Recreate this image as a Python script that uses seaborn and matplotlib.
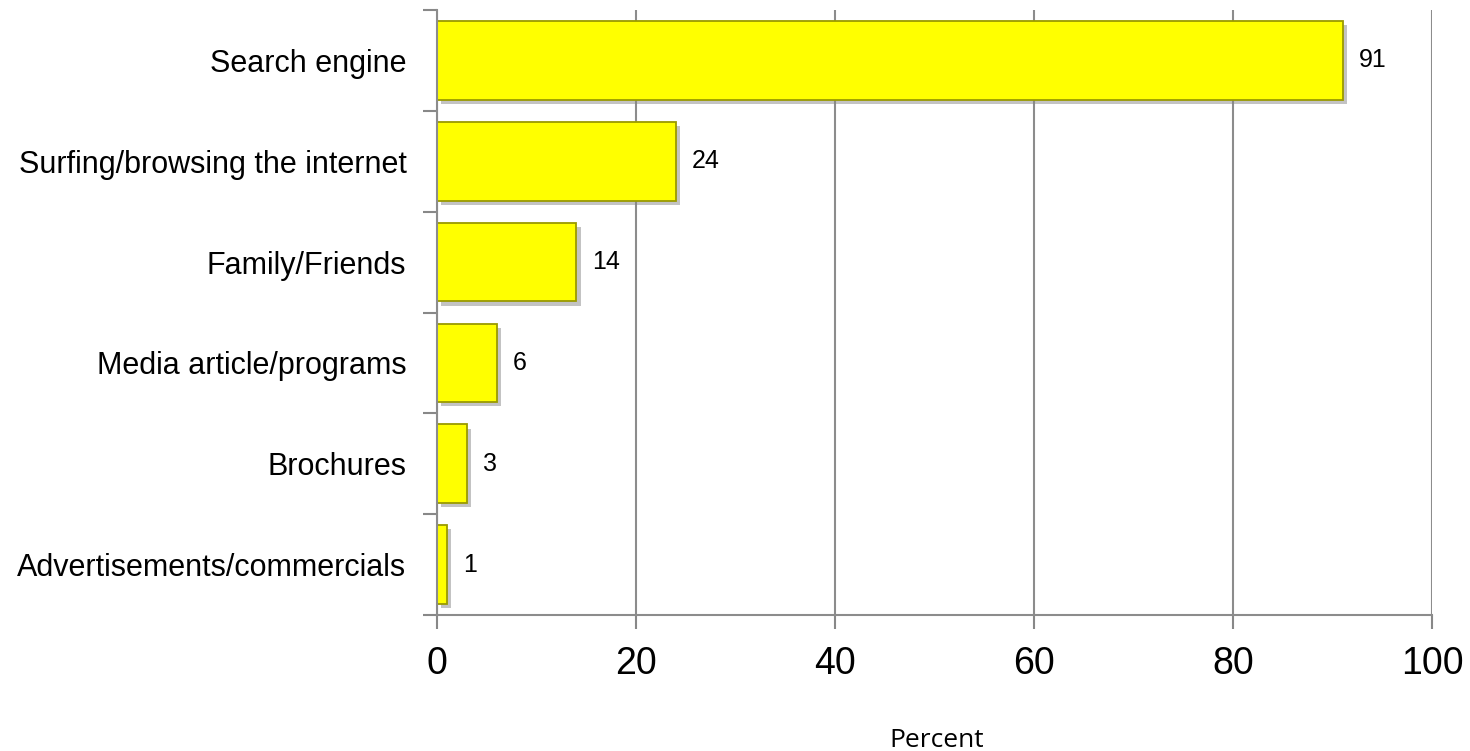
import matplotlib
matplotlib.use("Agg")
import matplotlib.pyplot as plt
import matplotlib.patheffects as pe
from matplotlib import font_manager
import pandas as pd
import seaborn as sns

categories = [
    "Search engine",
    "Surfing/browsing the internet",
    "Family/Friends",
    "Media article/programs",
    "Brochures",
    "Advertisements/commercials",
]
percent = [91, 24, 14, 6, 3, 1]
x_ticks = [0, 20, 40, 60, 80, 100]

df = pd.DataFrame({"source": categories, "percent": percent})

sns.set_style("white")
plt.rcParams["font.family"] = ["Liberation Sans", "DejaVu Sans"]
plt.rcParams["text.color"] = "black"
plt.rcParams["xtick.color"] = "black"
plt.rcParams["ytick.color"] = "black"

# narrow face for the category labels if available
installed = {f.name for f in font_manager.fontManager.ttflist}
label_family = "Liberation Sans Narrow" if "Liberation Sans Narrow" in installed else "Liberation Sans"

fig = plt.figure(figsize=(14.7, 7.51), dpi=100)
ax = fig.add_axes([0.2973, 0.181, 0.6769, 0.8057])

sns.barplot(data=df, x="percent", y="source", orient="h", color="#ffff00",
            saturation=1, width=0.78, edgecolor="#9a9a00", linewidth=1.3, ax=ax)

for bar in ax.patches:
    bar.set_path_effects([pe.SimplePatchShadow(offset=(3, -3), shadow_rgbFace="#888888", alpha=0.5),
                          pe.Normal()])

for i, v in enumerate(percent):
    ax.text(v + 1.6, i, str(v), va="center", ha="left", fontsize=18, color="black")

ax.set_xlim(0, 100)
ax.set_ylim(len(categories) - 0.5, -0.5)
ax.set_xticks(x_ticks)
ax.set_xticklabels([str(t) for t in x_ticks], fontsize=27)
ax.set_yticks(range(len(categories)))
ax.set_yticklabels(categories, fontsize=25 if label_family.endswith("Narrow") else 22,
                   family=[label_family, "DejaVu Sans"])
ax.tick_params(axis="y", which="major", length=0, pad=22)
ax.tick_params(axis="x", which="major", bottom=True, length=10, width=1.5,
               color="#888888", labelcolor="black", direction="out", pad=12)

# category boundary ticks on the left axis
ax.set_yticks([i - 0.5 for i in range(len(categories) + 1)], minor=True)
ax.tick_params(axis="y", which="minor", left=True, length=10, width=1.5,
               color="#888888", direction="out")

ax.grid(axis="x", color="#8c8c8c", linewidth=1.5)
ax.set_axisbelow(True)
for side in ["top", "right"]:
    ax.spines[side].set_visible(False)
for side in ["left", "bottom"]:
    ax.spines[side].set_color("#8c8c8c")
    ax.spines[side].set_linewidth(1.5)

ax.set_ylabel("")
ax.set_xlabel("")
fig.text(0.637, 0.031, "Percent", ha="center", va="top", fontsize=19,
         family=["Open Sans", "DejaVu Sans"])

fig.savefig("out.png", dpi=100, facecolor="white")
